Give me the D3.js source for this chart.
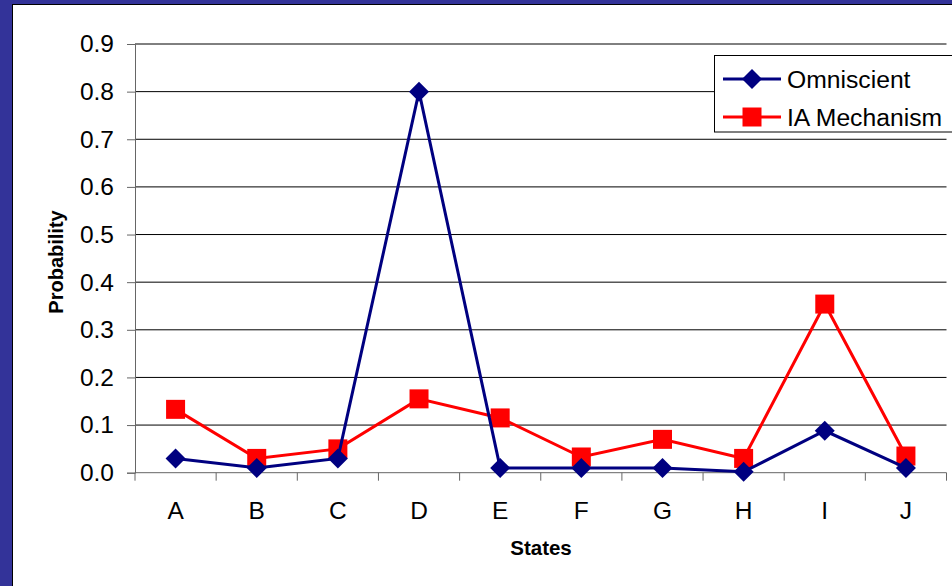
<!DOCTYPE html>
<html>
<head>
<meta charset="utf-8">
<script src="https://cdn.jsdelivr.net/npm/d3@7"></script>
<style>
  html, body { margin: 0; padding: 0; background: #333399; }
  svg { display: block; }
  text { font-family: "Liberation Sans", Arial, sans-serif; fill: #000; }
</style>
</head>
<body>
<svg id="chart" width="952" height="586"></svg>
<script>
// States along the x axis
const states = ["A", "B", "C", "D", "E", "F", "G", "H", "I", "J"];
// Probability of each state under the two approaches
const omniscient = [0.03, 0.01, 0.03, 0.80, 0.01, 0.01, 0.01, 0.002, 0.088, 0.01];
const iaMechanism = [0.133, 0.03, 0.05, 0.155, 0.115, 0.033, 0.07, 0.03, 0.354, 0.035];
// Y axis tick values and their labels
const yTicks = [0, 0.1, 0.2, 0.3, 0.4, 0.5, 0.6, 0.7, 0.8, 0.9];
const yTickLabels = ["0.0", "0.1", "0.2", "0.3", "0.4", "0.5", "0.6", "0.7", "0.8", "0.9"];
const seriesNames = ["Omniscient", "IA Mechanism"];

const svg = d3.select("#chart");
const W = 952, H = 586;

// slide frame: white panel inside a blue border
svg.append("rect").attr("x", 0).attr("y", 0).attr("width", W).attr("height", H).attr("fill", "#333399");
svg.append("rect").attr("x", 12.5).attr("y", 4.5).attr("width", W).attr("height", H)
  .attr("fill", "#fff").attr("stroke", "#000").attr("stroke-width", 1);

const plot = { left: 135, right: 946.5, top: 44, bottom: 472.7 };

const x = d3.scaleBand().domain(states).range([plot.left, plot.right]);
const y = d3.scaleLinear().domain([0, 0.9]).range([plot.bottom, plot.top]);

// horizontal gridlines
svg.append("g").selectAll("line").data(yTicks.slice(1)).join("line")
  .attr("x1", plot.left).attr("x2", plot.right)
  .attr("y1", d => y(d)).attr("y2", d => y(d))
  .attr("stroke", "#000").attr("stroke-width", 1);

// y axis
const yAxis = d3.axisLeft(y).tickValues(yTicks)
  .tickFormat((d, i) => yTickLabels[i]).tickSize(8).tickPadding(13);
const gy = svg.append("g").attr("transform", `translate(${plot.left},0)`).call(yAxis);
gy.select(".domain").attr("stroke", "#666");
gy.selectAll(".tick line").attr("stroke", "#666");
gy.selectAll(".tick text").style("font-size", "24.5px").style("font-family", "Liberation Sans, Arial, sans-serif").attr("fill", "#000");

// x axis with ticks between categories
const gx = svg.append("g").attr("transform", `translate(0,${plot.bottom})`);
gx.append("line").attr("x1", plot.left).attr("x2", plot.right).attr("y1", 0).attr("y2", 0).attr("stroke", "#666");
const boundaries = states.map(s => x(s)).concat([plot.right]);
gx.selectAll("line.tk").data(boundaries).join("line").attr("class", "tk")
  .attr("x1", d => d).attr("x2", d => d).attr("y1", 0).attr("y2", 8).attr("stroke", "#666");
gx.selectAll("text").data(states).join("text")
  .attr("x", d => x(d) + x.bandwidth() / 2).attr("y", 46)
  .attr("text-anchor", "middle").style("font-size", "24.5px").text(d => d);

// axis titles
svg.append("text").attr("transform", "translate(63,262) rotate(-90)")
  .attr("text-anchor", "middle").style("font-size", "20px").style("font-weight", "bold").text("Probability");
svg.append("text").attr("x", 541).attr("y", 555)
  .attr("text-anchor", "middle").style("font-size", "20.5px").style("font-weight", "bold").text("States");

const cx = d => x(d) + x.bandwidth() / 2;
const line = d3.line().x((d, i) => cx(states[i])).y(d => y(d));

const diamond = d3.symbol().type(d3.symbolSquare).size(200);
const square = d3.symbol().type(d3.symbolSquare).size(361);

// IA Mechanism series (red squares)
svg.append("path").datum(iaMechanism).attr("d", line)
  .attr("fill", "none").attr("stroke", "#ff0000").attr("stroke-width", 3);
svg.append("g").selectAll("path").data(iaMechanism).join("path")
  .attr("d", square).attr("fill", "#ff0000")
  .attr("transform", (d, i) => `translate(${cx(states[i])},${y(d)})`);

// Omniscient series (navy diamonds)
svg.append("path").datum(omniscient).attr("d", line)
  .attr("fill", "none").attr("stroke", "#000080").attr("stroke-width", 3);
svg.append("g").selectAll("path").data(omniscient).join("path")
  .attr("d", diamond).attr("fill", "#000080")
  .attr("transform", (d, i) => `translate(${cx(states[i])},${y(d)}) rotate(45)`);

// legend
const lg = svg.append("g");
lg.append("rect").attr("x", 714.5).attr("y", 55.5).attr("width", 240).attr("height", 76.5)
  .attr("fill", "#fff").attr("stroke", "#000").attr("stroke-width", 1);
const rows = [
  { name: seriesNames[0], color: "#000080", sym: diamond, rot: 45, y: 79 },
  { name: seriesNames[1], color: "#ff0000", sym: square, rot: 0, y: 117 }
];
rows.forEach(r => {
  lg.append("line").attr("x1", 723).attr("x2", 781).attr("y1", r.y).attr("y2", r.y)
    .attr("stroke", r.color).attr("stroke-width", 3);
  lg.append("path").attr("d", r.sym).attr("fill", r.color)
    .attr("transform", `translate(752,${r.y}) rotate(${r.rot})`);
  lg.append("text").attr("x", 787).attr("y", r.y).attr("dy", "0.35em")
    .style("font-size", "24.7px").text(r.name);
});
</script>
</body>
</html>
